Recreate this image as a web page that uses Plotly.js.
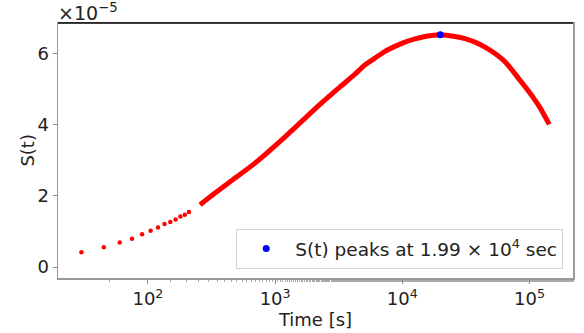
<!DOCTYPE html>
<html>
<head>
<meta charset="utf-8">
<script src="https://cdn.plot.ly/plotly-3.0.1.min.js"></script>
<style>html,body{margin:0;padding:0;background:#fff;}#chart{width:584px;height:333px;}</style>
</head>
<body>
<div id="chart"></div>
<script>
// Sparse early samples (time in s, S(t) in units of 1e-5)
var sparseT = [30, 45, 60, 75, 90, 105, 120, 135, 150, 165, 180, 195, 210];
var sparseS = [0.42, 0.56, 0.69, 0.80, 0.92, 1.02, 1.11, 1.21, 1.27, 1.34, 1.42, 1.47, 1.55];
// Dense samples
var denseT = [257, 337, 484, 695, 1093, 1569, 2253, 3236, 4246, 5088, 6098, 7306, 8757, 10495, 12580, 15080, 19900, 25940, 31090, 37260, 44650, 53500, 64140, 84140, 100800, 120800, 143000];
var denseS = [1.75, 2.08, 2.50, 2.92, 3.53, 4.05, 4.57, 5.06, 5.42, 5.68, 5.87, 6.06, 6.20, 6.32, 6.41, 6.48, 6.53, 6.48, 6.42, 6.32, 6.18, 6.00, 5.77, 5.25, 4.89, 4.48, 4.01];
// Peak
var peakT = [19900];
var peakS = [6.53];
var yTicks = [0, 2, 4, 6];
var xTicks = [100, 1000, 10000, 100000];
var xTickText = ['10<sup>2</sup>', '10<sup>3</sup>', '10<sup>4</sup>', '10<sup>5</sup>'];
var legendText = 'S(t) peaks at 1.99 × 10<sup>4</sup> sec';

var font = 'DejaVu Sans, sans-serif';
var traces = [
  {x: sparseT, y: sparseS, mode: 'markers', type: 'scatter', showlegend: false,
   marker: {color: '#ff0000', size: 4.5}, hoverinfo: 'skip'},
  {x: denseT, y: denseS, mode: 'lines', type: 'scatter', showlegend: false,
   line: {color: '#ff0000', width: 5, shape: 'spline', smoothing: 0.8}, hoverinfo: 'skip'},
  {x: peakT, y: peakS, mode: 'markers', type: 'scatter', name: legendText,
   marker: {color: '#0000ff', size: 7}}
];
var layout = {
  width: 584, height: 333,
  margin: {l: 58, r: 11, t: 23, b: 55},
  paper_bgcolor: '#fff', plot_bgcolor: '#fff',
  font: {family: font, size: 18, color: '#222'},
  xaxis: {type: 'log', range: [1.293, 5.342], tickvals: xTicks, ticktext: xTickText,
    showgrid: false, zeroline: false, showline: true, linecolor: '#999', linewidth: 1.5, mirror: true,
    ticks: 'outside', ticklen: 4, tickcolor: '#888',
    minor: {ticks: 'outside', ticklen: 2, tickcolor: '#aaa', showgrid: false},
    tickfont: {size: 18, family: font, color: '#222'},
    title: {text: 'Time [s]', font: {size: 18, family: font, color: '#222'}, standoff: 2}},
  yaxis: {range: [-0.306, 6.857], tickvals: yTicks, ticktext: yTicks.map(String),
    showgrid: false, zeroline: false, showline: true, linecolor: '#999', linewidth: 1.5, mirror: true,
    ticks: 'outside', ticklen: 4, tickcolor: '#888',
    tickfont: {size: 18, family: font, color: '#222'}},
  legend: {x: 0.981, y: 0.035, xanchor: 'right', yanchor: 'bottom', itemwidth: 48,
    bgcolor: 'rgba(255,255,255,0.9)', bordercolor: '#d5d5d5', borderwidth: 1,
    font: {size: 18.5, family: font, color: '#222'}},
  shapes: [{type: 'line', xref: 'paper', yref: 'paper', x0: 0, x1: 1, y0: 1, y1: 1,
    line: {color: '#000', width: 1.5}}],
  annotations: [
    {xref: 'paper', yref: 'paper', x: 0, y: 1, xanchor: 'left', yanchor: 'bottom',
     text: '×10<sup>−5</sup>', showarrow: false, font: {size: 19, family: font, color: '#222'}, yshift: -3, xshift: -2},
    {xref: 'paper', yref: 'paper', x: -0.06, y: 0.5, xanchor: 'center', yanchor: 'middle', textangle: -90,
     text: 'S(t)', showarrow: false, font: {size: 18, family: font, color: '#222'}}
  ]
};
Plotly.newPlot('chart', traces, layout, {displayModeBar: false, staticPlot: true});
</script>
</body>
</html>
